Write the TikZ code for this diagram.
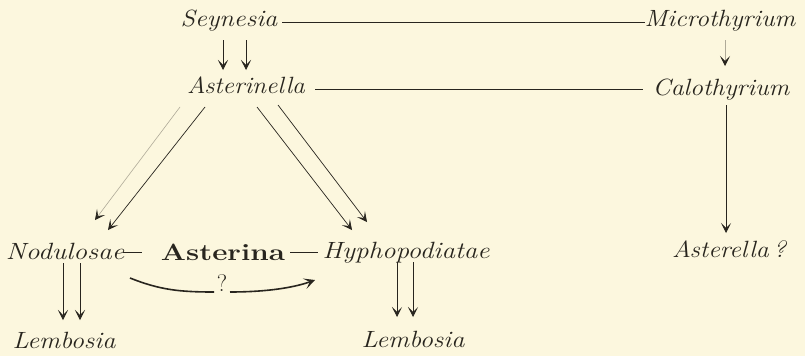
\documentclass[tikz,border=0pt]{standalone}
\usetikzlibrary{arrows.meta}
\definecolor{paper}{RGB}{252,247,222}
\definecolor{ink}{RGB}{40,37,30}
\definecolor{faint}{RGB}{175,170,152}
\newcommand{\widetxt}[2]{\scalebox{#1}[1]{#2}}
\begin{document}
\begin{tikzpicture}[x=1pt,y=-1pt,
  lbl/.style={font=\fontsize{23.5}{27}\selectfont\itshape, text=ink, inner sep=1pt, text height=11pt, text depth=4pt},
  bld/.style={font=\fontsize{23.5}{27}\selectfont\bfseries, text=ink, inner sep=1pt, text height=11pt, text depth=4pt},
  ln/.style={draw=ink, line width=0.7pt},
  fln/.style={draw=faint, line width=0.6pt},
  arr/.style={ln, -{Stealth[length=10pt, width=10pt, inset=5pt]}},
  farr/.style={fln, -{Stealth[length=10pt, width=10pt, inset=5pt, color=ink, fill=ink]}},
  qln/.style={draw=ink, line width=1.6pt}]
\fill[paper] (0,0) rectangle (805,356);
\useasboundingbox (0,0) rectangle (805,356);
% nodes
\node[lbl] (sey) at (229,23.5) {\widetxt{1.12}{Seynesia}};
\node[lbl] (mic) at (720,23.5) {\widetxt{1.1}{Microthyrium}};
\node[lbl] (ast) at (246,89.5) {\widetxt{1.08}{Asterinella}};
\node[lbl] (cal) at (721,91.5) {\widetxt{1.1}{Calothyrium}};
\node[lbl] (nod) at (65,255.5) {\widetxt{1.17}{Nodulosae}};
\node[bld] (asa) at (223,256.5) {\widetxt{1.26}{Asterina}};
\node[lbl] (hyp) at (406,255) {\widetxt{1.15}{Hyphopodiatae}};
\node[lbl] (astl) at (729,253.5) {\widetxt{1.1}{Asterella\,?}};
\node[lbl] (lem1) at (64,344.5) {\widetxt{1.12}{Lembosia}};
\node[lbl] (lem2) at (413,343.5) {\widetxt{1.12}{Lembosia}};
\node[font=\fontsize{24}{27}\selectfont, text=ink, inner sep=0pt] (q) at (222,283) {?};
% horizontal links
\draw[ln] ([shift={(53,-1.5)}]sey.center) -- ([shift={(-75,-1.5)}]mic.center);
\draw[ln] ([shift={(69,-0.5)}]ast.center) -- ([shift={(-78,-2.5)}]cal.center);
\draw[ln, line width=0.9pt] ([shift={(58,-3.5)}]nod.center) -- ([shift={(-81,-4.5)}]asa.center);
\draw[ln, line width=0.9pt] ([shift={(67,-4.5)}]asa.center) -- ([shift={(-88,-3)}]hyp.center);
% Seynesia -> Asterinella
\draw[arr] ([shift={(-6,16.5)}]sey.center) -- ([shift={(-23,-19.5)}]ast.center);
\draw[arr] ([shift={(17,16.5)}]sey.center) -- ([shift={(0,-19.5)}]ast.center);
% Microthyrium -> Calothyrium
\draw[farr] ([shift={(5,16.5)}]mic.center) -- ([shift={(4,-25.5)}]cal.center);
% Calothyrium -> Asterella
\draw[arr] ([shift={(5,13.5)}]cal.center) -- ([shift={(-3,-20.5)}]astl.center);
% Asterinella -> Nodulosae
\draw[arr] ([shift={(-41,17.5)}]ast.center) -- ([shift={(43,-25.5)}]nod.center);
\draw[farr] ([shift={(-66,17.5)}]ast.center) -- ([shift={(30,-35.5)}]nod.center);
% Asterinella -> Hyphopodiatae
\draw[arr] ([shift={(11,17.5)}]ast.center) -- ([shift={(-54,-25)}]hyp.center);
\draw[arr] ([shift={(32,15.5)}]ast.center) -- ([shift={(-39,-33)}]hyp.center);
% Nodulosae -> Lembosia
\draw[arr] ([shift={(-2,7.5)}]nod.center) -- ([shift={(-1,-24.5)}]lem1.center);
\draw[arr] ([shift={(15,7.5)}]nod.center) -- ([shift={(16,-24.5)}]lem1.center);
% Hyphopodiatae -> Lembosia
\draw[arr] ([shift={(-9,7)}]hyp.center) -- ([shift={(-16,-26.5)}]lem2.center);
\draw[arr] ([shift={(7,7)}]hyp.center) -- ([shift={(0,-26.5)}]lem2.center);
% curved ? arrow
\draw[qln] ([shift={(65,22.5)}]nod.center) .. controls (160,290) and (180,292) .. ([shift={(-8,9)}]q.center);
\draw[qln, -{Stealth[length=11pt, width=11pt, inset=5.5pt]}] ([shift={(8,9)}]q.center) .. controls (260,292) and (290,289) .. ([shift={(-91,25)}]hyp.center);
\end{tikzpicture}
\end{document}
